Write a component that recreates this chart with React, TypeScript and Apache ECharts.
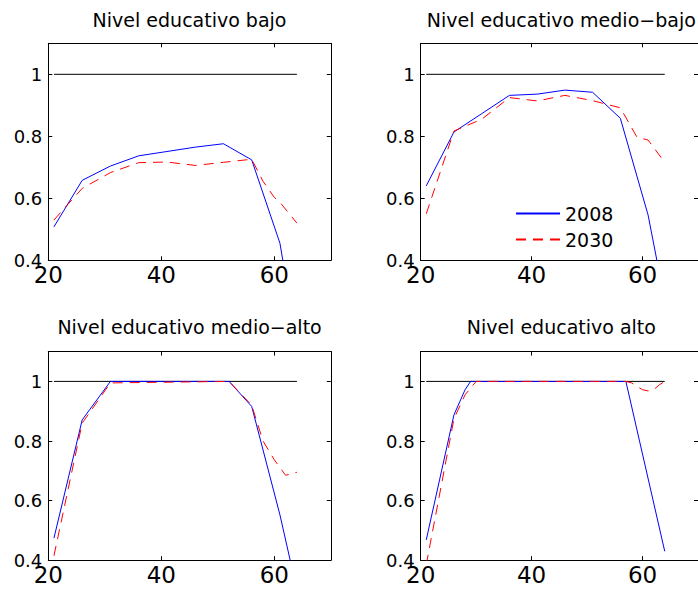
import React, { useEffect, useRef } from "react";
import * as echarts from "echarts";

// ---- data ----
const panelTitles = [
  "Nivel educativo bajo",
  "Nivel educativo medio\u2212bajo",
  "Nivel educativo medio\u2212alto",
  "Nivel educativo alto",
];
const seriesNames = ["2008", "2030"];

const xTicks = [20, 40, 60];
const yTicks = [0.4, 0.6, 0.8, 1];

const refAges = [21, 64];
const refVals = [1, 1];

const bajoAges2008 = [21, 26, 31, 36, 41, 46, 51, 56, 61, 64];
const bajo2008 = [0.508, 0.658, 0.704, 0.737, 0.751, 0.765, 0.776, 0.724, 0.455, 0.13];
const bajoAges2030 = [21, 26, 31, 36, 41, 46, 51, 56, 58, 60, 61, 64];
const bajo2030 = [0.53, 0.632, 0.683, 0.715, 0.717, 0.706, 0.716, 0.726, 0.655, 0.603, 0.587, 0.52];

const medioBajoAges2008 = [21, 26, 31, 36, 41, 46, 51, 56, 61, 64];
const medioBajo2008 = [0.64, 0.814, 0.873, 0.932, 0.936, 0.949, 0.942, 0.858, 0.546, 0.27];
const medioBajoAges2030 = [21, 26, 31, 36, 41, 46, 51, 56, 59, 61, 64];
const medioBajo2030 = [0.55, 0.817, 0.855, 0.925, 0.914, 0.932, 0.915, 0.892, 0.797, 0.788, 0.716];

const medioAltoAges2008 = [21, 26, 31, 52, 56, 61, 64];
const medioAlto2008 = [0.474, 0.871, 1.0, 1.0, 0.916, 0.552, 0.3];
const medioAltoAges2030 = [21, 26, 31, 52, 56, 58, 60, 62, 64];
const medioAlto2030 = [0.415, 0.86, 0.995, 1.0, 0.92, 0.8, 0.737, 0.685, 0.695];

const altoAges2008 = [21, 26, 28, 29, 57, 64];
const alto2008 = [0.468, 0.888, 0.972, 1.0, 1.0, 0.43];
const altoAges2030 = [21, 26, 28, 30, 57, 58, 60, 61, 62, 63, 64];
const alto2030 = [0.385, 0.875, 0.955, 1.0, 1.0, 0.995, 0.972, 0.968, 0.972, 0.988, 1.0];

// ---- layout ----
const FONT = "DejaVu Sans";
const grids = [
  { left: 48.3, top: 43.3, width: 282.5, height: 217 },
  { left: 420.7, top: 43.3, width: 281.2, height: 217 },
  { left: 48.3, top: 351.6, width: 282.5, height: 208.6 },
  { left: 420.7, top: 351.6, width: 281.2, height: 208.6 },
];
const titleTops = [10.5, 10.5, 317, 317];

const zip = (a: number[], b: number[]) => a.map((x, i) => [x, b[i]]);

const panelData = [
  [zip(bajoAges2008, bajo2008), zip(bajoAges2030, bajo2030)],
  [zip(medioBajoAges2008, medioBajo2008), zip(medioBajoAges2030, medioBajo2030)],
  [zip(medioAltoAges2008, medioAlto2008), zip(medioAltoAges2030, medioAlto2030)],
  [zip(altoAges2008, alto2008), zip(altoAges2030, alto2030)],
];

function buildOption() {
  const xAxis: any[] = [];
  const yAxis: any[] = [];
  const series: any[] = [];
  const axisLine = { show: true, onZero: false, lineStyle: { color: "#000", width: 1 } };
  const axisTick = { show: true, inside: true, length: 4, lineStyle: { color: "#000", width: 1 } };

  grids.forEach((g, i) => {
    ["bottom", "top"].forEach((pos) => {
      xAxis.push({
        type: "value",
        gridIndex: i,
        position: pos,
        min: xTicks[0],
        max: 70,
        interval: xTicks[1] - xTicks[0],
        axisLine,
        axisTick,
        splitLine: { show: false },
        axisLabel: {
          show: pos === "bottom",
          fontSize: 23,
          fontFamily: FONT,
          color: "#000",
          margin: 3,
          showMaxLabel: false,
        },
      });
    });
    ["left", "right"].forEach((pos) => {
      yAxis.push({
        type: "value",
        gridIndex: i,
        position: pos,
        min: yTicks[0],
        max: 1.1,
        interval: 0.2,
        axisLine,
        axisTick,
        splitLine: { show: false },
        axisLabel: {
          show: pos === "left",
          fontSize: 18,
          fontFamily: FONT,
          color: "#000",
          margin: 6,
          showMaxLabel: false,
          formatter: (v: number) => String(Math.round(v * 10) / 10),
        },
      });
    });

    series.push({
      type: "line",
      name: "ref",
      xAxisIndex: 2 * i,
      yAxisIndex: 2 * i,
      data: zip(refAges, refVals),
      symbol: "none",
      lineStyle: { color: "#000", width: 1 },
      silent: true,
    });
    series.push({
      type: "line",
      name: seriesNames[0],
      xAxisIndex: 2 * i,
      yAxisIndex: 2 * i,
      data: panelData[i][0],
      symbol: "none",
      clip: true,
      color: "#0000ff",
      lineStyle: { color: "#0000ff", width: 1 },
    });
    series.push({
      type: "line",
      name: seriesNames[1],
      xAxisIndex: 2 * i,
      yAxisIndex: 2 * i,
      data: panelData[i][1],
      symbol: "none",
      clip: true,
      color: "#ff0000",
      lineStyle: { color: "#ff0000", width: 1, type: [10, 7] },
    });
  });

  return {
    animation: false,
    backgroundColor: "#fff",
    textStyle: { fontFamily: FONT },
    title: panelTitles.map((t, i) => ({
      text: t,
      left: grids[i].left + grids[i].width / 2,
      top: titleTops[i],
      textAlign: "center",
      padding: 0,
      textStyle: { fontSize: 19, fontWeight: "normal", color: "#000", fontFamily: FONT },
    })),
    legend: {
      data: seriesNames,
      orient: "vertical",
      left: 515,
      top: 204,
      padding: 0,
      itemWidth: 44,
      itemHeight: 14,
      itemGap: 7,
      itemStyle: { opacity: 0 },
      textStyle: { fontSize: 19, color: "#000", fontFamily: FONT },
      selectedMode: false,
    },
    grid: grids.map((g) => ({ ...g, show: false, containLabel: false })),
    xAxis,
    yAxis,
    series,
  };
}

export default function App() {
  const ref = useRef<HTMLDivElement>(null);
  useEffect(() => {
    if (!ref.current) return;
    const chart = echarts.init(ref.current, undefined, { renderer: "svg" });
    chart.setOption(buildOption() as any);
    return () => chart.dispose();
  }, []);
  return (
    <div
      ref={ref}
      style={{ position: "absolute", left: 0, top: 0, width: 698, height: 591, background: "#fff" }}
    />
  );
}
